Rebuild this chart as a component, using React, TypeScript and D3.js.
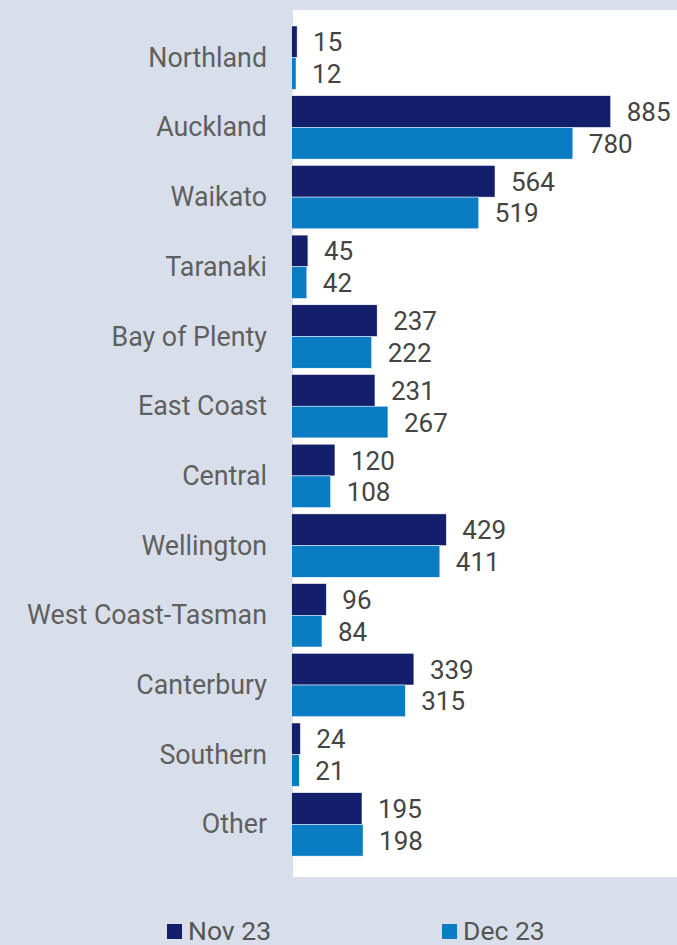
import React from "react";
import * as d3 from "d3";

const categories = [
  "Northland", "Auckland", "Waikato", "Taranaki", "Bay of Plenty", "East Coast",
  "Central", "Wellington", "West Coast-Tasman", "Canterbury", "Southern", "Other",
];
const nov23 = [15, 885, 564, 45, 237, 231, 120, 429, 96, 339, 24, 195];
const dec23 = [12, 780, 519, 42, 222, 267, 108, 411, 84, 315, 21, 198];
const seriesNames = ["Nov 23", "Dec 23"];
const seriesColors = ["#131f6b", "#0a7cc4"];

const W = 677;
const H = 945;
const FONT = "Roboto, 'Noto Sans', sans-serif";

export default function App() {
  const x0 = 291.7;
  const x = d3.scaleLinear().domain([0, 885]).range([x0, 610.7]);
  const top = 26;
  const step = 69.7;
  const band = step - 6.3;
  const yTop = (i: number) => top + i * step;
  const inner = d3.scaleBand<number>().domain([0, 1]).range([0, band]);
  const series = [nov23, dec23];

  return (
    <svg
      width={W}
      height={H}
      style={{ position: "absolute", left: 0, top: 0, display: "block" }}
      fontFamily={FONT}
    >
      <rect x={0} y={0} width={W} height={H} fill="#d9dfea" />
      <rect x={293} y={10} width={W - 293} height={867} fill="#ffffff" />
      {categories.map((c, i) => (
        <g key={c}>
          <text
            x={267}
            y={yTop(i) + band / 2}
            textAnchor="end"
            dominantBaseline="central"
            fontSize={26.8}
            fill="#5f5f5f"
          >
            {c}
          </text>
          {series.map((vals, s) => {
            const by = yTop(i) + (inner(s) as number);
            const bh = inner.bandwidth();
            return (
              <g key={s}>
                <rect
                  x={x(0)}
                  y={by}
                  width={x(vals[i]) - x(0)}
                  height={bh}
                  fill={seriesColors[s]}
                  stroke="#ffffff"
                  strokeWidth={0.5}
                />
                <text
                  x={x(vals[i]) + 16}
                  y={by + bh / 2 + 0.5}
                  dominantBaseline="central"
                  fontSize={26}
                  fill="#444444"
                >
                  {vals[i]}
                </text>
              </g>
            );
          })}
        </g>
      ))}
      {seriesNames.map((n, s) => {
        const lx = s === 0 ? 167 : 442;
        return (
          <g key={n}>
            <rect x={lx} y={924} width={15} height={15} fill={seriesColors[s]} />
            <text x={lx + 21} y={940} fontSize={26.5} fill="#555555">
              {n}
            </text>
          </g>
        );
      })}
    </svg>
  );
}
